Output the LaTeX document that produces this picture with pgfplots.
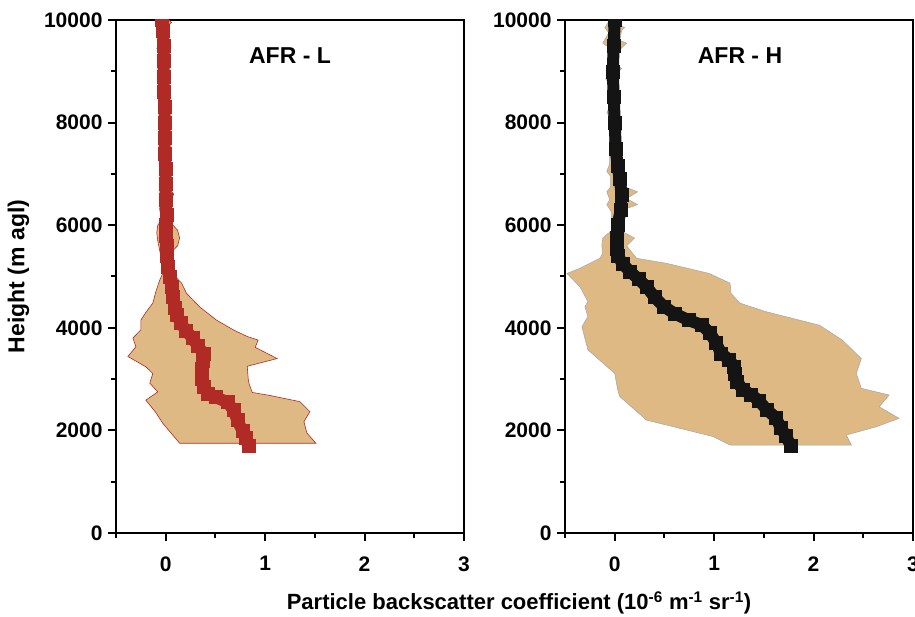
\documentclass[border=0pt]{standalone}
\usepackage{fontspec}
\setmainfont{Liberation Sans}
\usepackage{pgfplots}
\pgfplotsset{compat=1.18}
\definecolor{lred}{RGB}{176,42,38}
\definecolor{tan}{RGB}{222,185,132}
\pgfplotsset{
  prof/.style={
    scale only axis, width=348pt, height=513pt, anchor=south west,
    xmin=-0.5, xmax=3, ymin=0, ymax=10000,
    xtick={0,1,2,3}, minor xtick={-0.5,0.5,1.5,2.5},
    ytick={0,2000,4000,6000,8000,10000}, minor ytick={1000,3000,5000,7000,9000},
    tick align=outside, xtick pos=bottom, ytick pos=left,
    axis line style={line width=2.2pt},
    major tick length=8pt, minor tick length=5pt,
    every tick/.style={line width=2pt, black},
    scaled y ticks=false,
    /pgf/number format/assume math mode=true,
    /pgf/number format/1000 sep={},
    tick label style={font=\fontsize{21}{24}\selectfont\bfseries},
    xticklabel style={yshift=-12pt},
    yticklabel style={xshift=-2pt},
    clip marker paths=true,
  },
  prof line/.style={line width=12pt, mark=square*, mark size=6.5pt,
    mark options={line width=0.4pt}},
}
\begin{document}
\begin{tikzpicture}
\useasboundingbox (0,0) rectangle (915pt,617pt);
% ---- AFR - L
\begin{axis}[prof, at={(116pt,84pt)},
  ylabel={Height (m agl)},
  ylabel style={at={(axis description cs:-0.28,0.5)}, anchor=center,
    font=\fontsize{23}{26}\selectfont\bfseries}]
\addplot[fill=tan, draw=lred, line width=0.6pt] coordinates {
(0.14,1750) (1.51,1750) (1.42,1950) (1.39,2170) (1.45,2365) (1.35,2560) (1.05,2680)
(0.87,2740) (0.84,2900) (0.83,3000) (0.82,3250) (1.12,3400) (0.90,3620) (0.93,3760)
(0.82,3830) (0.68,3960) (0.51,4150) (0.34,4410) (0.21,4670) (0.16,4870) (0.11,4970)
(0.08,5150) (0.07,5500) (0.12,5600) (0.14,5750) (0.12,5900) (0.05,6050) (0.05,6500)
(0.08,6600) (0.05,6700) (0.04,7000) (0.06,7200) (0.04,7300) (0.03,8000) (0.03,9000)
(0.05,9500) (0.03,9600) (0.02,9900) (0.06,9950) (0.03,10000)
(-0.09,10000) (-0.10,9950) (-0.07,9850) (-0.06,9500) (-0.09,9450) (-0.06,9400)
(-0.05,8500) (-0.05,7000) (-0.06,6300) (-0.04,6100) (-0.08,6000) (-0.09,5850)
(-0.08,5700) (-0.06,5500) (-0.04,5300) (-0.03,5060) (-0.06,4930) (-0.10,4700)
(-0.13,4480) (-0.20,4300) (-0.25,4150) (-0.25,3960) (-0.33,3800) (-0.30,3630)
(-0.38,3440) (-0.20,3240) (-0.13,3110) (-0.16,2920) (-0.08,2750) (-0.20,2590)
(-0.10,2350) (-0.03,2140) (0.14,1750)
} -- cycle;
\addplot[lred, prof line] coordinates {
(0.83,1700) (0.80,1850) (0.77,2000) (0.72,2200) (0.68,2400) (0.62,2550) (0.50,2650)
(0.42,2720) (0.38,2850) (0.36,3000) (0.36,3200) (0.37,3350) (0.38,3500) (0.32,3650)
(0.27,3800) (0.20,3950) (0.15,4100) (0.11,4250) (0.09,4400) (0.07,4600) (0.06,4800)
(0.04,5000) (0.02,5200) (0.01,5400) (0.01,5600) (0.00,5800) (0.00,6000) (0.01,6200)
(0.00,6500) (0.00,6800) (0.00,7100) (-0.01,7400) (-0.01,7700) (-0.01,8000)
(-0.01,8300) (-0.02,8600) (-0.02,8900) (-0.02,9200) (-0.02,9500) (-0.03,9800)
(-0.04,10000)
};
\node[font=\fontsize{23}{26}\selectfont\bfseries] at (axis cs:1.25,9300) {AFR - L};
\end{axis}
% ---- AFR - H
\begin{axis}[prof, at={(565pt,84pt)}]
\addplot[fill=tan, draw=gray!70, line width=0.5pt] coordinates {
(1.16,1715) (2.38,1715) (2.33,1910) (2.63,2070) (2.86,2235) (2.66,2460) (2.76,2690)
(2.48,2820) (2.43,3110) (2.48,3400) (2.29,3760) (2.06,4050) (1.52,4315) (1.26,4480)
(1.17,4670) (1.16,4870) (0.95,5060) (0.52,5257) (0.22,5355) (0.18,5450) (0.12,5600)
(0.20,5750) (0.10,5850) (0.08,6300) (0.23,6400) (0.12,6520) (0.23,6650) (0.10,6750)
(0.05,7000) (0.10,7100) (0.04,7200) (0.04,7800) (0.07,7850) (0.04,7900) (0.04,9000)
(0.07,9050) (0.04,9100) (0.04,9400) (0.12,9550) (0.05,9600) (0.07,9800) (0.10,9850)
(0.05,9900) (0.05,10000)
(-0.05,10000) (-0.10,9850) (-0.06,9750) (-0.12,9550) (-0.05,9450) (-0.07,9250)
(-0.04,9100) (-0.09,8850) (-0.05,8750) (-0.07,8500) (-0.05,8300) (-0.08,8200)
(-0.05,8100) (-0.05,7200) (-0.08,7050) (-0.04,6950) (-0.04,6750) (-0.08,6650)
(-0.05,6500) (-0.08,6400) (-0.03,6250) (-0.03,5900) (-0.12,5750) (-0.13,5600)
(-0.12,5450) (-0.15,5355) (-0.35,5160) (-0.48,5060) (-0.35,4800) (-0.27,4510)
(-0.30,4410) (-0.27,4220) (-0.33,4020) (-0.27,3570) (0.00,3110) (0.03,2790)
(0.05,2660) (0.32,2200) (0.99,1880) (1.16,1715)
} -- cycle;
\addplot[black!92, prof line] coordinates {
(1.77,1700) (1.72,1900) (1.67,2050) (1.62,2250) (1.53,2400) (1.45,2580) (1.37,2700)
(1.29,2790) (1.23,2950) (1.21,3100) (1.20,3250) (1.15,3380) (1.07,3500) (1.02,3700)
(0.96,3900) (0.87,4060) (0.74,4150) (0.60,4280) (0.49,4420) (0.40,4600) (0.32,4800)
(0.24,4950) (0.15,5100) (0.08,5250) (0.03,5400) (0.02,5550) (0.02,5750) (0.03,6000)
(0.06,6300) (0.07,6600) (0.05,6900) (0.03,7150) (0.01,7500) (0.00,8000) (-0.01,8500)
(-0.02,9000) (-0.01,9500) (0.00,10000)
};
\node[font=\fontsize{23}{26}\selectfont\bfseries] at (axis cs:1.26,9300) {AFR - H};
\end{axis}
\node[font=\fontsize{22}{26}\selectfont\bfseries] at (519pt,14pt)
  {Particle backscatter coefficient (10\textsuperscript{-6} m\textsuperscript{-1} sr\textsuperscript{-1})};
\end{tikzpicture}
\end{document}
